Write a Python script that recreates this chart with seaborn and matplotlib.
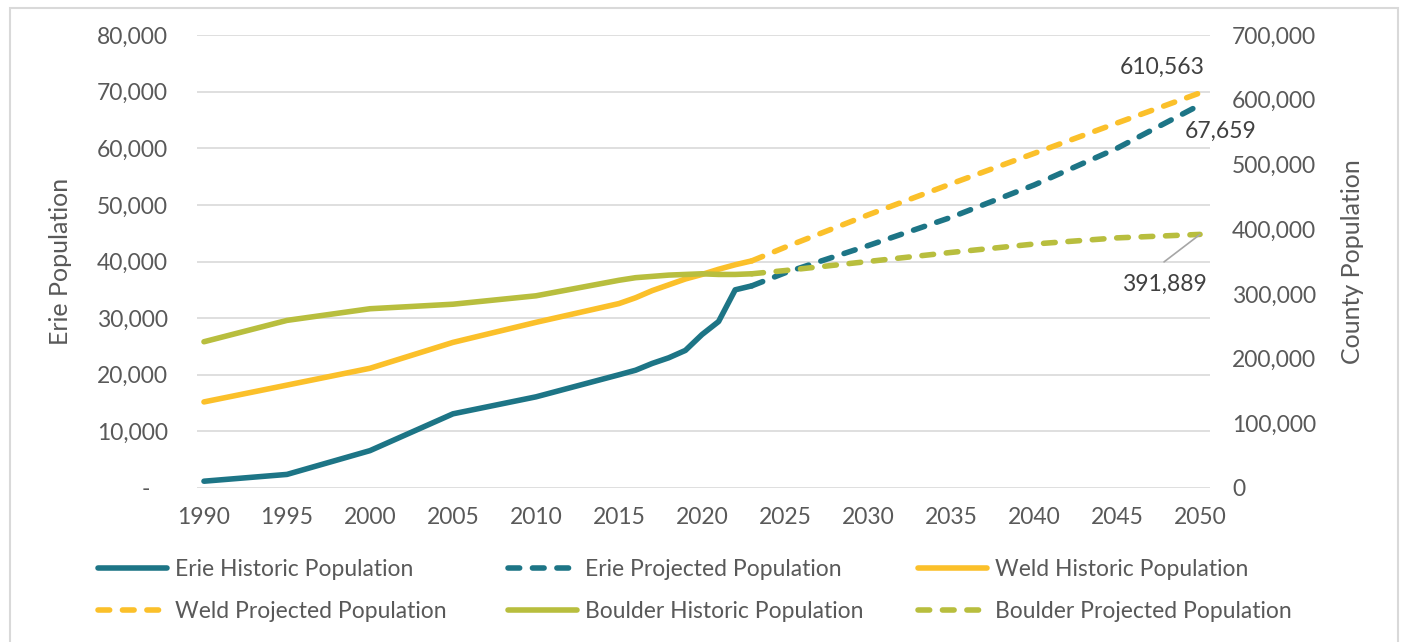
import matplotlib
matplotlib.use("Agg")
import matplotlib.pyplot as plt
from matplotlib.patches import Rectangle
from matplotlib.ticker import FuncFormatter
import seaborn as sns

# ---------------- data ----------------
hist_years = [1990, 1995, 2000, 2005, 2010, 2015, 2016, 2017, 2018, 2019, 2020, 2021, 2022, 2023]
erie_hist = [1200, 2400, 6600, 13100, 16100, 20000, 20800, 22000, 23000, 24300, 27100, 29400, 35000, 35700]
weld_hist = [133000, 159000, 185000, 225000, 256000, 285000, 294000, 305000, 314000, 323000, 330000, 338000, 345000, 351000]
boulder_hist = [226000, 259000, 277000, 284000, 297000, 321000, 325000, 327000, 329000, 330000, 331000, 330000, 330000, 331000]

proj_years = [2023, 2025, 2030, 2035, 2040, 2045, 2050]
erie_proj = [35700, 38000, 42800, 47800, 53500, 60000, 67659]
weld_proj = [351000, 372000, 422000, 470000, 517000, 564000, 610563]
boulder_proj = [331000, 336000, 350000, 364000, 377000, 386500, 391889]

series_labels = ["Erie Historic Population", "Erie Projected Population",
                 "Weld Historic Population", "Weld Projected Population",
                 "Boulder Historic Population", "Boulder Projected Population"]
x_ticks = list(range(1990, 2051, 5))
left_ticks = list(range(0, 80001, 10000))
right_ticks = list(range(0, 700001, 100000))
end_labels = ["610,563", "67,659", "391,889"]

# ---------------- style ----------------
sns.set_theme(style="white")
plt.rcParams['font.family'] = ['Lato', 'DejaVu Sans']

ERIE = "#1D7586"
WELD = "#FBC02A"
BOULDER = "#B8BE3E"
TXT = "#595959"
GRID = "#D9D9D9"
LW = 4.0
DASH = (0, (2.1, 2.3))

W, H = 1403, 642
fig = plt.figure(figsize=(W / 100, H / 100), dpi=100)
ax = fig.add_axes([197 / W, 1 - 488 / H, (1210 - 197) / W, (488 - 35) / H])
ax2 = ax.twinx()

common = dict(linewidth=LW, solid_capstyle="round", dash_capstyle="round",
              solid_joinstyle="round", dash_joinstyle="round", sort=False)

sns.lineplot(x=hist_years, y=erie_hist, ax=ax, color=ERIE, label=series_labels[0], **common)
sns.lineplot(x=proj_years, y=erie_proj, ax=ax, color=ERIE, linestyle=DASH, label=series_labels[1], **common)
sns.lineplot(x=hist_years, y=weld_hist, ax=ax2, color=WELD, label=series_labels[2], **common)
sns.lineplot(x=proj_years, y=weld_proj, ax=ax2, color=WELD, linestyle=DASH, label=series_labels[3], **common)
sns.lineplot(x=hist_years, y=boulder_hist, ax=ax2, color=BOULDER, label=series_labels[4], **common)
sns.lineplot(x=proj_years, y=boulder_proj, ax=ax2, color=BOULDER, linestyle=DASH, label=series_labels[5], **common)

for a in (ax, ax2):
    for s in a.spines.values():
        s.set_visible(False)
    if a.get_legend() is not None:
        a.get_legend().remove()

ax.set_xlim(1989.58, 2050.6)
ax.set_ylim(0, 80000)
ax2.set_ylim(0, 700000)
ax.set_xticks(x_ticks)
ax.set_yticks(left_ticks)
ax2.set_yticks(right_ticks)

ax.yaxis.set_major_formatter(FuncFormatter(lambda v, p: "-   " if v == 0 else f"{int(v):,}"))
ax2.yaxis.set_major_formatter(FuncFormatter(lambda v, p: f"{int(v):,}"))

ax.grid(axis="y", color=GRID, linewidth=1.2)
ax.grid(axis="x", visible=False)
ax2.grid(False)
ax.set_axisbelow(True)

FS = 16.5
ax.tick_params(axis="y", length=0, pad=21, labelsize=FS, labelcolor=TXT)
ax.tick_params(axis="x", length=0, pad=14, labelsize=FS, labelcolor=TXT)
ax2.tick_params(axis="y", length=0, pad=16, labelsize=FS, labelcolor=TXT)

ax.set_xlabel("")
ax.set_ylabel("Erie Population", fontsize=18, color=TXT)
ax2.set_ylabel("County Population", fontsize=18, color=TXT)
ax.yaxis.set_label_coords((72 - 197) / 1013, 0.5)
ax2.yaxis.set_label_coords((1341 - 197) / 1013, 0.5)

# end-point labels
ANN = "#404040"
px = 0.72  # points per pixel
ax2.annotate(end_labels[0], xy=(2050, weld_proj[-1]), xytext=(-38 * px, 26 * px),
             textcoords="offset points", ha="center", va="center", fontsize=FS, color=ANN)
ax.annotate(end_labels[1], xy=(2050, erie_proj[-1]), xytext=(21 * px, -26 * px),
            textcoords="offset points", ha="center", va="center", fontsize=FS, color=ANN)
ax2.annotate(end_labels[2], xy=(2050, boulder_proj[-1]), xytext=(-36 * px, -49.5 * px),
             textcoords="offset points", ha="center", va="center", fontsize=FS, color=ANN)
ax2.annotate("", xy=(2050, boulder_proj[-1]), xytext=(-36 * px, -27.5 * px),
             textcoords="offset points",
             arrowprops=dict(arrowstyle="-", color="#A6A6A6", lw=1.2, shrinkA=0, shrinkB=0))

# legend: three columns placed at the reference x positions
h1, l1 = ax.get_legend_handles_labels()
h2, l2 = ax2.get_legend_handles_labels()
hd = dict(zip(l1 + l2, h1 + h2))
columns = [(98, [series_labels[0], series_labels[3]]),
           (508, [series_labels[1], series_labels[4]]),
           (918, [series_labels[2], series_labels[5]])]
for xpix, labs in columns:
    fig.legend([hd[k] for k in labs], labs, loc="center left",
               bbox_to_anchor=(xpix / W, 1 - 590.5 / H), ncol=1, frameon=False,
               fontsize=FS, labelcolor=TXT, handlelength=3.0, handletextpad=0.35,
               labelspacing=0.95, borderpad=0, borderaxespad=0)

# light frame around the chart
fig.patches.append(Rectangle((10 / W, -0.1), (1398 - 10) / W, 1.1 - 8 / H,
                             transform=fig.transFigure, fill=False,
                             edgecolor=GRID, linewidth=1.5))

fig.savefig("out.png", dpi=100)
